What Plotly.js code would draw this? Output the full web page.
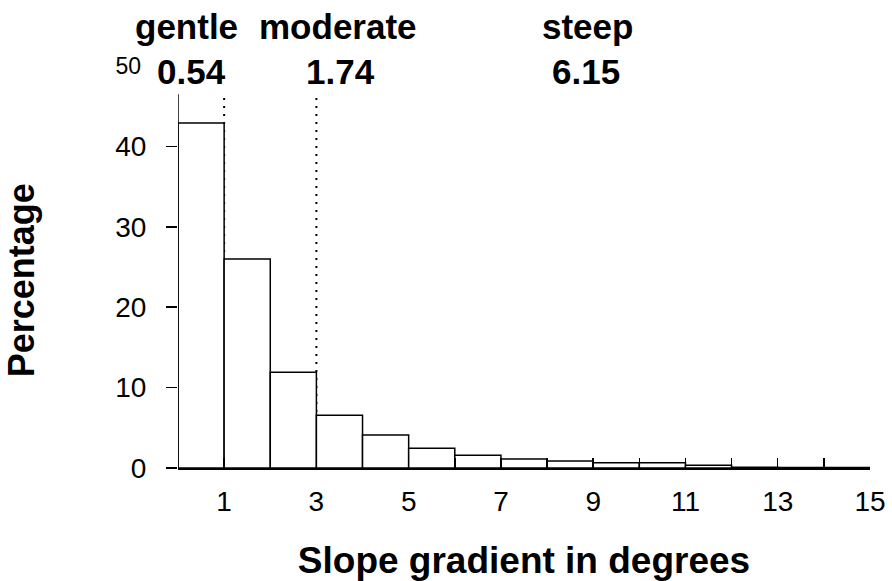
<!DOCTYPE html>
<html>
<head>
<meta charset="utf-8">
<script src="https://cdn.plot.ly/plotly-3.0.1.min.js"></script>
<style>html,body{margin:0;padding:0;background:#fff;}#chart{width:892px;height:581px;}</style>
</head>
<body>
<div id="chart"></div>
<script>
// Histogram of slope gradient (bins of 1 degree, 0–15)
const binStart = [0,1,2,3,4,5,6,7,8,9,10,11,12,13,14];
const percentage = [42.9, 26.0, 11.9, 6.55, 4.1, 2.45, 1.6, 1.12, 0.87, 0.66, 0.66, 0.34, 0.08, 0.05, 0.05];

// Class boundaries (dotted lines) and class labels with mean slopes
const boundaryX = [1, 3];
const boundaryTop = 46.5;
const classNames = ['gentle', 'moderate', 'steep'];
const classMeans = ['0.54', '1.74', '6.15'];

// Axis ticks
const xTickVals = [1,2,3,4,5,6,7,8,9,10,11,12,13,14,15];
const xTickText = ['1','','3','','5','','7','','9','','11','','13','','15'];
const yTickVals = [0,10,20,30,40];
const yTickText = ['0','10','20','30','40'];
const yTopTickVals = [50];
const yTopTickText = ['50'];

const W = 892, H = 581;
const M = {l:178, r:22, t:65.5, b:113};
const pw = W - M.l - M.r, ph = H - M.t - M.b;
const px = x => (x - M.l) / pw;
const py = y => (H - M.b - y) / ph;

const FONT = 'Liberation Sans, Arial, Helvetica, sans-serif';

const bars = {
  type: 'bar',
  x: binStart.map(v => v + 0.5),
  y: percentage,
  width: 1,
  marker: {color: '#ffffff', line: {color: '#000000', width: 1.5}},
  hoverinfo: 'skip'
};
// invisible helper trace so the secondary y axis (top "50" label) is drawn
const helper = {
  type: 'scatter', mode: 'markers', x: [0], y: [0], yaxis: 'y2',
  marker: {opacity: 0}, hoverinfo: 'skip', showlegend: false
};

const wordX = [186, 338, 587];
const numX = [191, 340, 586];
const annotations = [];
classNames.forEach((n, i) => {
  annotations.push({xref:'paper', yref:'paper', x: px(wordX[i]), y: py(26), xanchor:'center', yanchor:'middle',
    text: '<b>' + n + '</b>', showarrow:false, font:{family:FONT, size:35, color:'#000'}});
  annotations.push({xref:'paper', yref:'paper', x: px(numX[i]), y: py(71), xanchor:'center', yanchor:'middle',
    text: '<b>' + classMeans[i] + '</b>', showarrow:false, font:{family:FONT, size:35, color:'#000'}});
});
annotations.push({xref:'paper', yref:'paper', x: px(21), y: py(280), xanchor:'center', yanchor:'middle',
  textangle: -90, text: '<b>Percentage</b>', showarrow:false, font:{family:FONT, size:36, color:'#000'}});

const shapes = boundaryX.map(b => ({
  type:'line', xref:'x', yref:'y', x0:b, x1:b, y0:0, y1:boundaryTop, layer:'below',
  line:{color:'#000', width:2, dash:'2px,6px'}
}));
// y axis line (stops below the top labels, as in the original)
shapes.push({type:'line', xref:'x', yref:'y', x0:0, x1:0, y0:0, y1:boundaryTop, layer:'above',
  line:{color:'#000', width:1.5}});

const layout = {
  width: W, height: H,
  margin: M,
  paper_bgcolor: '#fff', plot_bgcolor: '#fff',
  showlegend: false,
  bargap: 0,
  font: {family: FONT, color: '#000'},
  xaxis: {
    range: [0, 15], tickmode:'array', tickvals: xTickVals, ticktext: xTickText,
    ticks: 'inside', ticklen: 10, tickwidth: 1.5, tickcolor: '#000',
    showline: true, linecolor: '#000', linewidth: 1.5,
    showgrid: false, zeroline: false,
    tickfont: {family: FONT, size: 28, color: '#000'},
    ticklabelstandoff: 8,
    title: {text: '<b>Slope gradient in degrees</b>', font: {family: FONT, size: 37, color: '#000'}, standoff: 34}
  },
  yaxis: {
    range: [0, 50], tickmode:'array', tickvals: yTickVals, ticktext: yTickText,
    ticks: 'outside', ticklen: 11, tickwidth: 1.5, tickcolor: '#000',
    showline: false,
    showgrid: false, zeroline: false,
    tickfont: {family: FONT, size: 28, color: '#000'},
    ticklabelstandoff: 14
  },
  yaxis2: {
    overlaying: 'y', side: 'left', range: [0, 50],
    tickmode:'array', tickvals: yTopTickVals, ticktext: yTopTickText,
    ticks: '', showline: false, showgrid: false, zeroline: false,
    tickfont: {family: FONT, size: 23, color: '#000'},
    ticklabelstandoff: 36
  },
  annotations: annotations,
  shapes: shapes
};

Plotly.newPlot('chart', [bars, helper], layout, {staticPlot: true, displayModeBar: false});
</script>
</body>
</html>
